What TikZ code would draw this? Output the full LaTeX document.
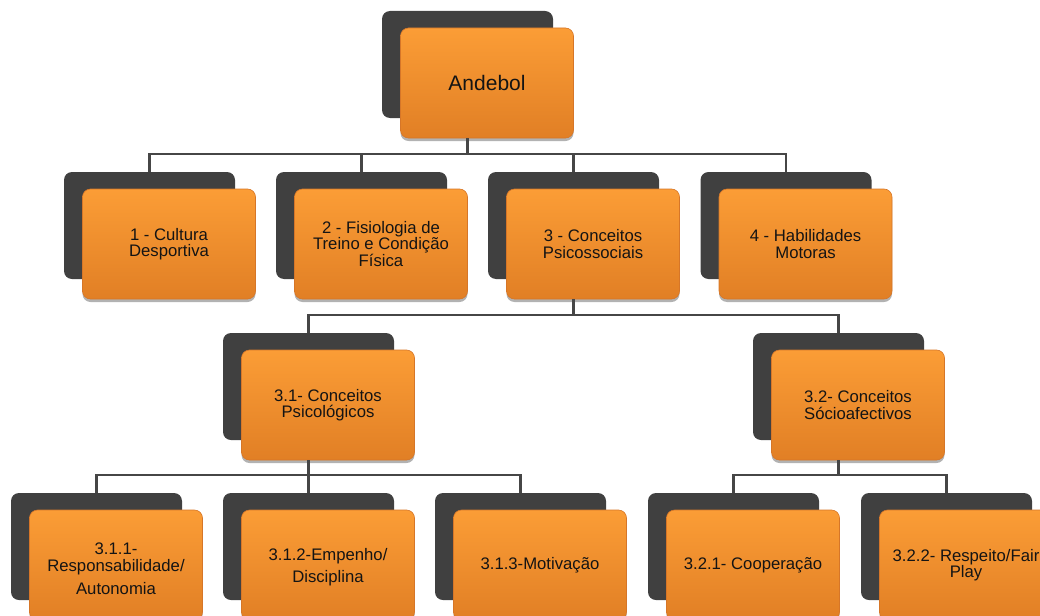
\documentclass[tikz,border=0pt]{standalone}
\usepackage{fontspec}
\setmainfont{Liberation Sans}
\usetikzlibrary{shadows}
\definecolor{dkgray}{RGB}{64,64,64}
\definecolor{lnc}{RGB}{70,70,70}
\definecolor{ortop}{RGB}{251,157,54}
\definecolor{orbot}{RGB}{225,127,37}
\definecolor{oredge}{RGB}{214,118,40}
\definecolor{txt}{RGB}{20,20,20}
\tikzset{
  darkbox/.style={fill=dkgray, rounded corners=8pt, minimum width=171pt, minimum height=107pt, inner sep=0pt, draw=none},
  orbox/.style={rounded corners=8pt, minimum width=173pt, minimum height=110pt, inner sep=0pt,
    top color=ortop, bottom color=orbot, draw=oredge, line width=0.6pt, align=center, text=txt,
    font=\fontsize{16.7}{16.5}\selectfont,
    drop shadow={shadow xshift=0pt, shadow yshift=-3pt, opacity=0.3, fill=black}},
  txtonly/.style={align=center, text=txt, inner sep=0pt, font=\fontsize{16.7}{16.5}\selectfont},
  conn/.style={draw=lnc, line width=2.2pt}
}
\begin{document}
\begin{tikzpicture}[x=1pt,y=-1pt]
\useasboundingbox (0,0) rectangle (1040,615);
\clip (0,0) rectangle (1040,615);
% level 0
\node[darkbox] (d0) at (467.5,64.5) {};
\node[orbox, font=\fontsize{21}{22}\selectfont] (o0) at (487,83) {Andebol};
% level 1
\node[darkbox] (d1) at (149.5,225.5) {};
\node[orbox] (o1) at (169,244) {1 - Cultura\\Desportiva};
\node[darkbox] (d2) at (361.5,225.5) {};
\node[orbox] (o2) at (381,244) {2 - Fisiologia de\\Treino e Condição\\Física};
\node[darkbox] (d3) at (573.5,225.5) {};
\node[orbox] (o3) at (593,244) {3 - Conceitos\\Psicossociais};
\node[darkbox] (d4) at (786,225.5) {};
\node[orbox] (o4) at (805.5,244) {4 - Habilidades\\Motoras};
% level 2
\node[darkbox] (d31) at (308.5,386.5) {};
\node[orbox] (o31) at (328,405) {3.1- Conceitos\\Psicológicos};
\node[darkbox] (d32) at (838.5,386.5) {};
\node[orbox] (o32) at (858,405) {3.2- Conceitos\\Sócioafectivos};
% level 3
\node[darkbox] (d311) at (96.5,546.5) {};
\node[orbox] (o311) at (116,565) {};
\node[txtonly] (t311) at ([yshift=-4pt]o311.center) {3.1.1-\\Responsabilidade/\\[7pt]Autonomia};
\node[darkbox] (d312) at (308.5,546.5) {};
\node[orbox] (o312) at (328,565) {};
\node[txtonly] (t312) at ([yshift=-2pt]o312.center) {3.1.2-Empenho/\\[6pt]Disciplina};
\node[darkbox] (d313) at (520.5,546.5) {};
\node[orbox] (o313) at (540,565) {3.1.3-Motivação};
\node[darkbox] (d321) at (733.5,546.5) {};
\node[orbox] (o321) at (753,565) {3.2.1- Cooperação};
\node[darkbox] (d322) at (946.5,546.5) {};
\node[orbox] (o322) at (966,565) {3.2.2- Respeito/Fair\\Play};
% bus coordinates
\coordinate (b1) at (0,154);
\coordinate (b2) at (0,315);
\coordinate (b3) at (0,475);
% connectors level 1
\draw[conn] (d0 |- o0.south) -- (d0 |- b1);
\draw[conn] (d1.north) -- (d1.north |- b1) -- (d4.north |- b1) -- (d4.north);
\draw[conn] (d2.north |- b1) -- (d2.north);
\draw[conn] (d3.north |- b1) -- (d3.north);
% connectors level 2
\draw[conn] (d3 |- o3.south) -- (d3 |- b2);
\draw[conn] (d31.north) -- (d31.north |- b2) -- (d32.north |- b2) -- (d32.north);
% connectors level 3 (3.1)
\draw[conn] (d31 |- o31.south) -- (d31 |- b3);
\draw[conn] (d311.north) -- (d311.north |- b3) -- (d313.north |- b3) -- (d313.north);
\draw[conn] (d312.north |- b3) -- (d312.north);
% connectors level 3 (3.2)
\draw[conn] (d32 |- o32.south) -- (d32 |- b3);
\draw[conn] (d321.north) -- (d321.north |- b3) -- (d322.north |- b3) -- (d322.north);
\end{tikzpicture}
\end{document}
